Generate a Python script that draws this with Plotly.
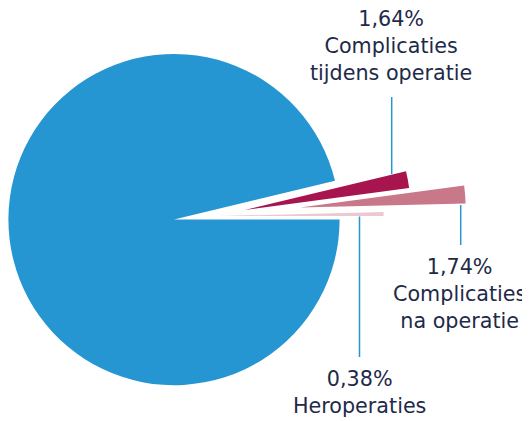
import plotly.graph_objects as go

# Data
labels = ["Overig", "Complicaties tijdens operatie", "Complicaties na operatie", "Heroperaties"]
values = [96.24, 1.64, 1.74, 0.38]
value_labels = ["", "1,64%", "1,74%", "0,38%"]
label_texts = ["", "Complicaties<br>tijdens operatie", "Complicaties<br>na operatie", "Heroperaties"]
colors = ["#2696D3", "#A8144E", "#C87888", "#EBC9D0"]

W, H = 530, 421
OFF = 8  # page body margin
R = 165.6
# slice centres (pixels) — main pie and exploded slices
centres = [(174, 219.6), (245, 210), (300, 207.5), (218, 216)]

fig = go.Figure()
for i, (cx, cy) in enumerate(centres):
    cx -= OFF
    cy -= OFF
    cols = [c if j == i else "rgba(0,0,0,0)" for j, c in enumerate(colors)]
    fig.add_trace(go.Pie(
        labels=labels, values=values, sort=False, direction="clockwise",
        rotation=90, textinfo="none", hoverinfo="label+value",
        marker=dict(colors=cols, line=dict(width=0)),
        domain=dict(x=[(cx - R) / W, (cx + R) / W],
                    y=[1 - (cy + R) / H, 1 - (cy - R) / H]),
        showlegend=False,
    ))

font = dict(family="DejaVu Sans, sans-serif", size=20.7, color="#1E2A48")
ann = [
    (391, 4.5, 1),
    (459, 252.5, 2),
    (359, 364.5, 3),
]
annotations = []
for x, y, i in ann:
    annotations.append(dict(
        x=(x - OFF) / W, y=1 - (y - OFF) / H, xref="paper", yref="paper",
        xanchor="center", yanchor="top", showarrow=False, align="center",
        text=value_labels[i] + "<br>" + label_texts[i], font=font))

line_col = "#2696D3"
lines = [(391.7, 97, 174), (460.7, 205, 245), (359.5, 216.5, 357)]
shapes = [dict(type="line", xref="paper", yref="paper",
               x0=(x - OFF) / W, x1=(x - OFF) / W,
               y0=1 - (y0 - OFF) / H, y1=1 - (y1 - OFF) / H,
               line=dict(color=line_col, width=1.5)) for x, y0, y1 in lines]

fig.update_layout(width=W, height=H, margin=dict(l=0, r=0, t=0, b=0),
                  paper_bgcolor="white", plot_bgcolor="white",
                  annotations=annotations, shapes=shapes)
fig.write_html("out.html")
